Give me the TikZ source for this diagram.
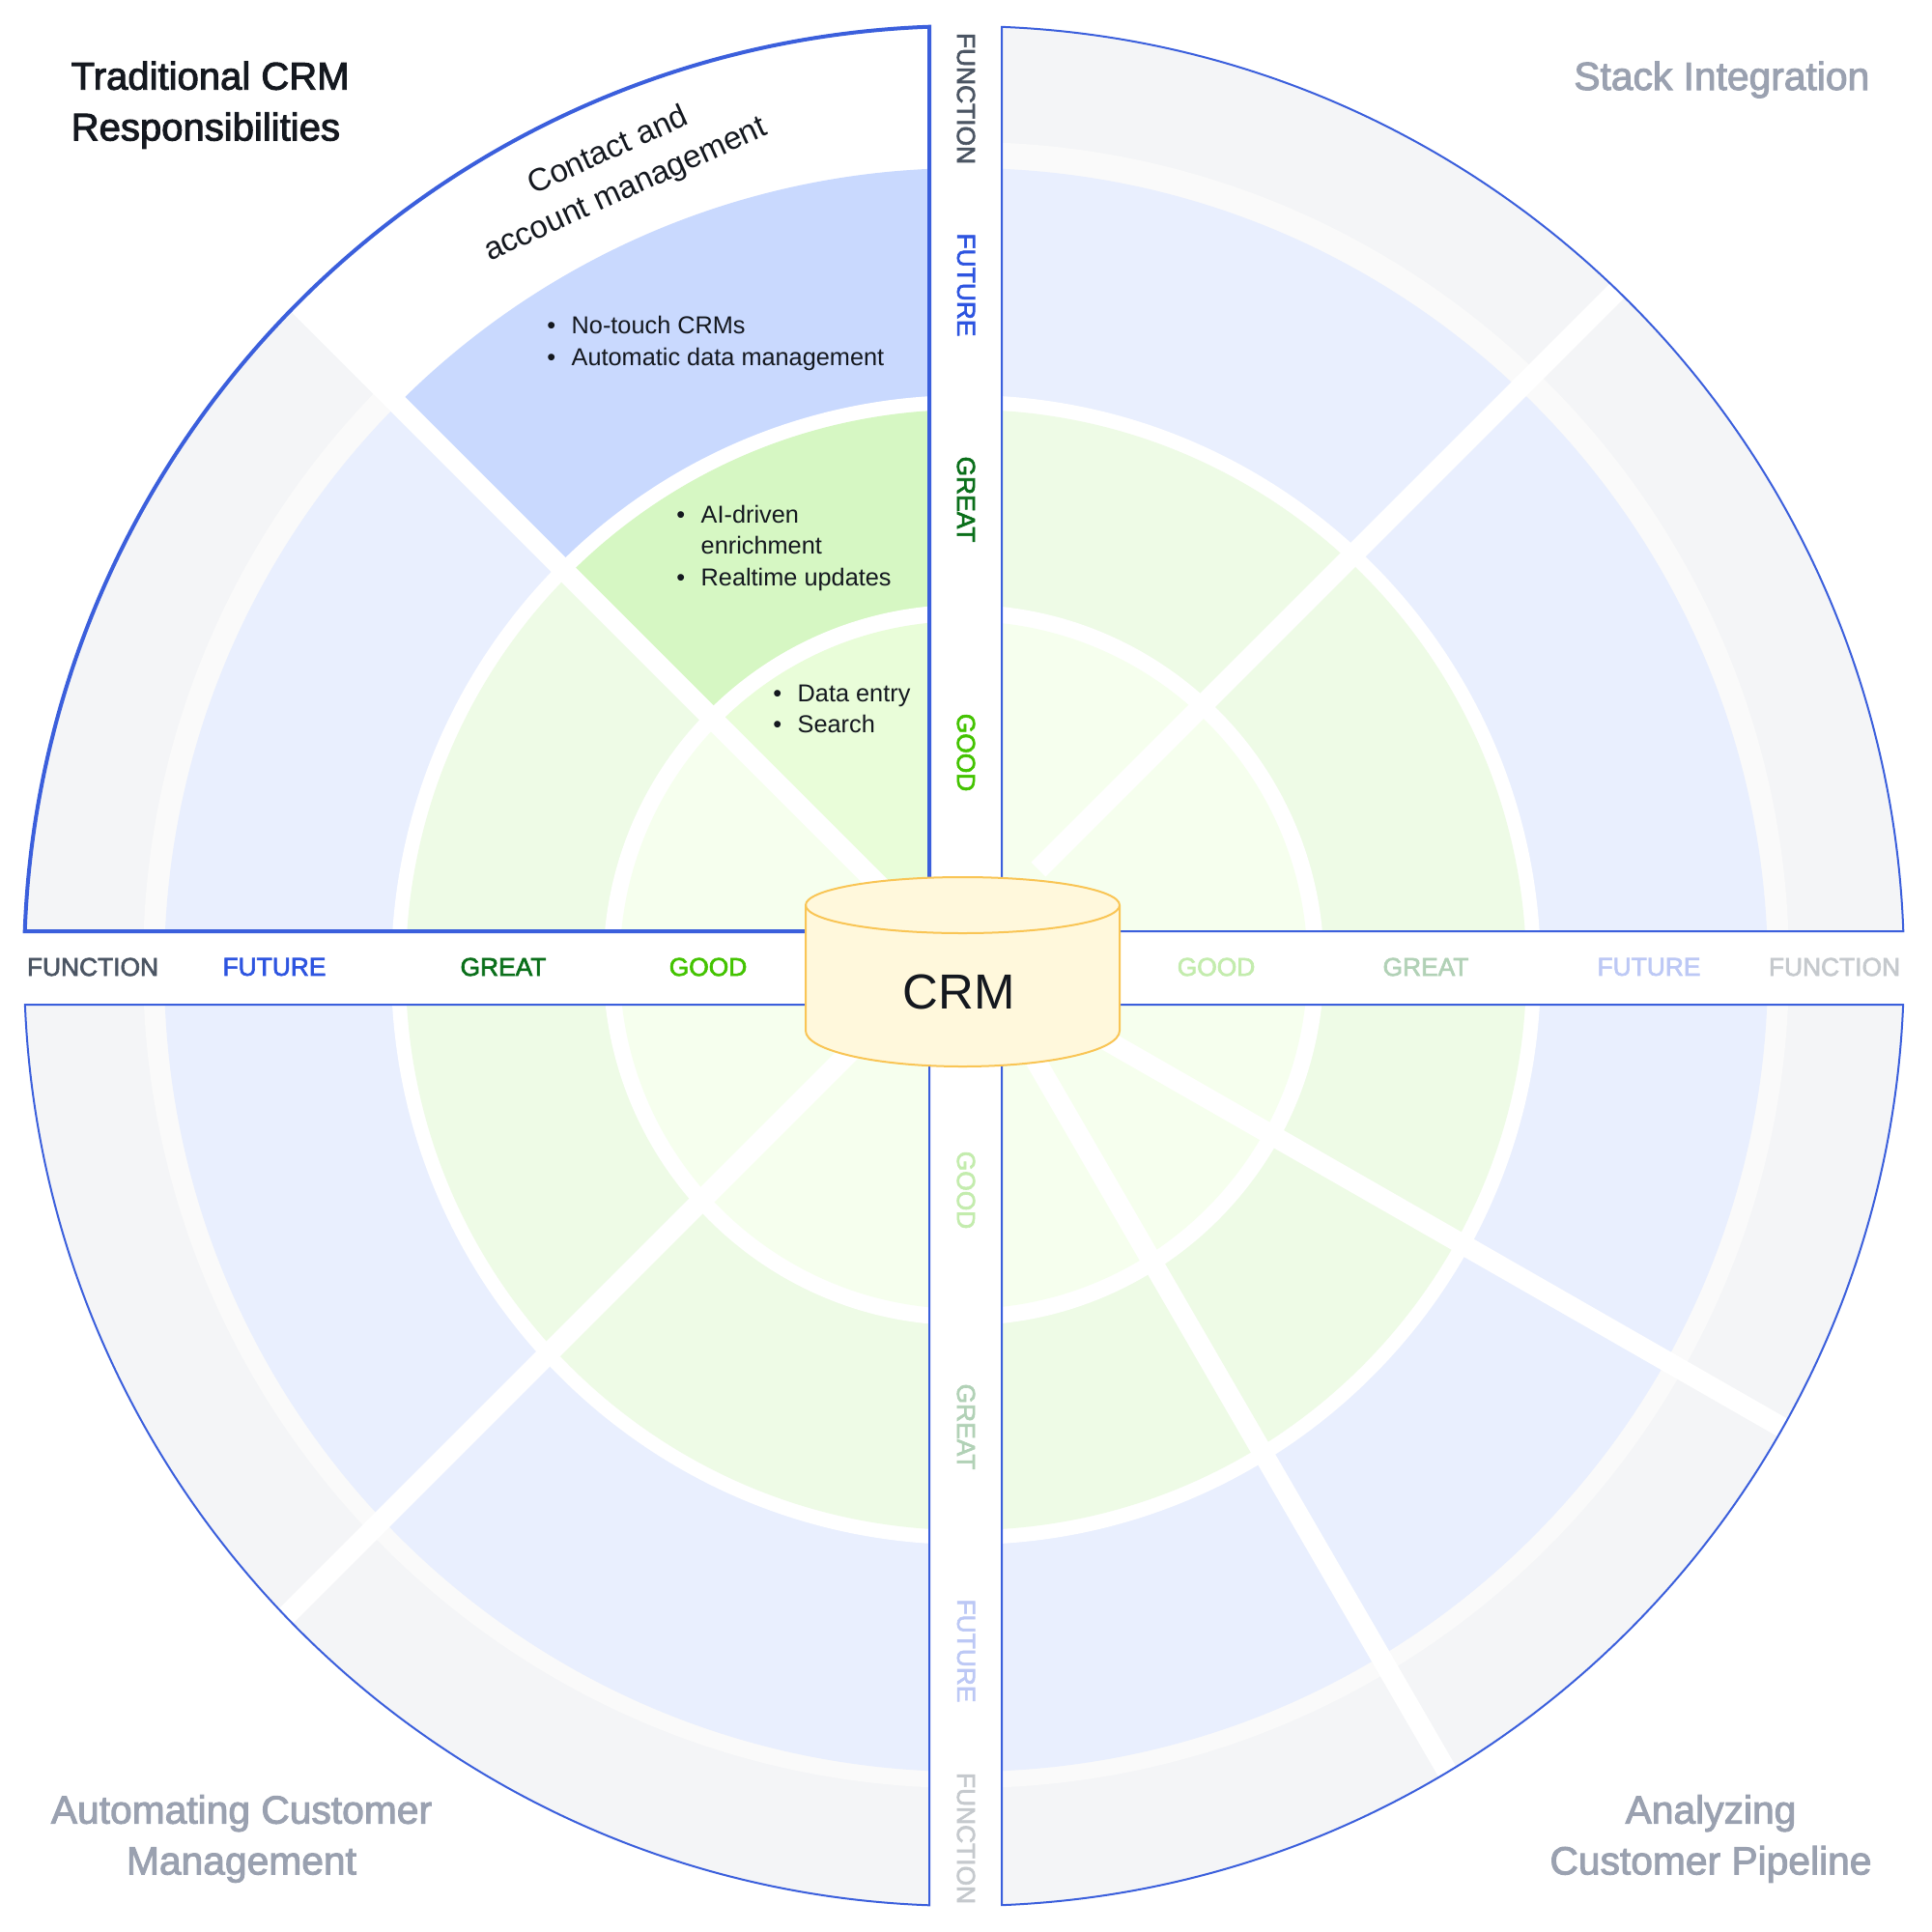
\documentclass[tikz,border=0pt]{standalone}
\usepackage{fontspec}
\setmainfont{Liberation Sans}
\newfontfamily\medfont[FakeBold=2.4]{Liberation Sans}
\usepackage{tikz}
\usetikzlibrary{calc}
\definecolor{quadblue}{HTML}{3B5FDC}
\definecolor{ringgrey}{HTML}{F4F5F7}
\definecolor{ringgap}{HTML}{FAFAFA}
\definecolor{ringblue}{HTML}{E9EFFE}
\definecolor{ringgreen}{HTML}{EEFBE6}
\definecolor{ringlime}{HTML}{F6FFEE}
\definecolor{hiblue}{HTML}{C9D9FE}
\definecolor{higreen}{HTML}{D6F7C3}
\definecolor{hilime}{HTML}{E9FDD9}
\definecolor{inkdark}{HTML}{14181F}
\definecolor{inkgrey}{HTML}{9AA1B0}
\definecolor{tagfunction}{HTML}{4B5563}
\definecolor{tagfuture}{HTML}{2D54E0}
\definecolor{taggreat}{HTML}{0A6F1A}
\definecolor{taggood}{HTML}{43C300}
\definecolor{cylfill}{HTML}{FFF8DC}
\definecolor{cylline}{HTML}{F9C555}
\newcommand{\bulletitem}{\llap{\textbullet\hspace{1.65mm}}}
\tikzset{
    divider/.style={white, line width=2.1mm},
    quadline/.style={draw=quadblue, line width=0.2mm, miter limit=10},
    quadthick/.style={draw=quadblue, line width=0.4mm, miter limit=10},
    title/.style={align=center, text=inkgrey, font=\fontsize{11.6}{15}\selectfont\medfont},
    tag/.style={font=\fontsize{7.5}{9}\selectfont\medfont},
    vtag/.style={tag, rotate=-90},
    itemlist/.style={anchor=west, align=left, inner sep=0pt, text=inkdark, font=\fontsize{7.2}{9.25}\selectfont}
}

\begin{document}
\begin{tikzpicture}
    \useasboundingbox (0,0) rectangle (20,-20);
    \coordinate (hub) at (9.98,-10.00);

    % Rings
    \fill[ringgrey] (hub) circle[radius=9.73];
    \fill[ringgap] (10.00,-9.99) circle[radius=8.52];
    \fill[ringblue] (10.00,-10.04) circle[radius=8.30];
    \fill[white] (10.00,-10.04) circle[radius=5.95];
    \fill[ringgreen] (10.00,-10.04) circle[radius=5.80];
    \fill[white] (9.975,-9.99) circle[radius=3.73];
    \fill[ringlime] (9.975,-9.99) circle[radius=3.56];

    % Channels between quadrants
    \fill[white] (0,-9.64) rectangle (20,-10.40);
    \fill[white] (9.62,0) rectangle (10.37,-20);

    % Highlighted sector
    \begin{scope}
        \clip (9.62,-9.64) -- (9.62,0) -- (0,0) -- (0,-0.065) -- (9.62,-9.685) -- cycle;
        \fill[white] (hub) circle[radius=9.73];
        \fill[hiblue] (10.00,-10.04) circle[radius=8.30];
        \fill[white] (10.00,-10.04) circle[radius=5.95];
        \fill[higreen] (10.00,-10.04) circle[radius=5.80];
        \fill[white] (9.975,-9.99) circle[radius=3.73];
        \fill[hilime] (9.975,-9.99) circle[radius=3.56];
    \end{scope}

    % Dividers
    \draw[divider] (9.20,-9.265) -- (3.05,-3.115);
    \draw[divider] (10.75,-9.00) -- (16.78,-2.97);
    \draw[divider] (8.95,-10.74) -- (2.93,-16.76);
    \draw[divider] (11.00,-10.51) -- (18.50,-14.806);
    \draw[divider] (10.56,-10.70) -- (15.005,-18.38);

    % Quadrant outlines
    \draw[quadline] (10.37,-9.64) -- ($(hub)+(2.12:9.73)$) arc[start angle=2.12, end angle=87.70, radius=9.73] -- cycle;
    \draw[quadline] (9.62,-10.40) -- ($(hub)+(182.36:9.73)$) arc[start angle=182.36, end angle=267.88, radius=9.73] -- cycle;
    \draw[quadline] (10.37,-10.40) -- ($(hub)+(357.64:9.73)$) arc[start angle=357.64, end angle=272.30, radius=9.73] -- cycle;
    \draw[quadthick] (9.62,-9.64) -- ($(hub)+(177.88:9.73)$) arc[start angle=177.88, end angle=92.12, radius=9.73] -- cycle;

    % Quadrant titles
    \node[title, text=inkdark, align=left, anchor=north west, inner sep=0pt, font=\fontsize{11.4}{15}\selectfont\medfont] (crmduties) at (0.73,-0.63) {Traditional CRM\\Responsibilities};
    \node[title, anchor=east, inner sep=0pt] (stack) at (19.36,-0.825) {Stack Integration};
    \node[title] (automating) at (2.50,-19.035) {Automating Customer\\Management};
    \node[title] (analyzing) at (17.71,-19.035) {Analyzing\\Customer Pipeline};

    % Highlighted sector texts
    \node[rotate=24.5, align=center, text=inkdark, font=\fontsize{9.4}{12.4}\selectfont] (contact) at (6.39,-1.77) {Contact and\\account management};
    \node[itemlist] (futurelist) at (5.91,-3.555) {\bulletitem No-touch CRMs\\\bulletitem Automatic data management};
    \node[itemlist] (greatlist) at (7.25,-5.67) {\bulletitem AI-driven\\enrichment\\\bulletitem Realtime updates};
    \node[itemlist] (goodlist) at (8.25,-7.34) {\bulletitem Data entry\\\bulletitem Search};

    % Horizontal scale
    \node[tag, text=tagfunction] (hfunction) at (0.96,-10.01) {FUNCTION};
    \node[tag, text=tagfuture] (hfuture) at (2.84,-10.01) {FUTURE};
    \node[tag, text=taggreat] (hgreat) at (5.21,-10.01) {GREAT};
    \node[tag, text=taggood] (hgood) at (7.33,-10.01) {GOOD};
    \node[tag, text=taggood!32] (egood) at (12.59,-10.01) {GOOD};
    \node[tag, text=taggreat!32] (egreat) at (14.76,-10.01) {GREAT};
    \node[tag, text=tagfuture!32] (efuture) at (17.07,-10.01) {FUTURE};
    \node[tag, text=tagfunction!32] (efunction) at (18.99,-10.01) {FUNCTION};

    % Vertical scale
    \node[vtag, text=tagfunction] (vfunction) at (10.00,-1.02) {FUNCTION};
    \node[vtag, text=tagfuture] (vfuture) at (10.00,-2.95) {FUTURE};
    \node[vtag, text=taggreat] (vgreat) at (10.00,-5.17) {GREAT};
    \node[vtag, text=taggood] (vgood) at (10.00,-7.79) {GOOD};
    \node[vtag, text=taggood!32] (sgood) at (10.00,-12.32) {GOOD};
    \node[vtag, text=taggreat!32] (sgreat) at (10.00,-14.77) {GREAT};
    \node[vtag, text=tagfuture!32] (sfuture) at (10.00,-17.09) {FUTURE};
    \node[vtag, text=tagfunction!32] (sfunction) at (10.00,-19.03) {FUNCTION};

    % CRM cylinder
    \filldraw[fill=cylfill, draw=cylline, line width=0.2mm] (8.34,-9.37) -- (8.34,-10.67)
        arc[x radius=1.625, y radius=0.37, start angle=180, end angle=360] -- (11.59,-9.37)
        arc[x radius=1.625, y radius=0.29, start angle=0, end angle=180] -- cycle;
    \draw[draw=cylline, line width=0.2mm] (8.34,-9.37) arc[x radius=1.625, y radius=0.29, start angle=180, end angle=360];
    \node[text=inkdark, font=\fontsize{14.5}{16}\selectfont] (crm) at (9.93,-10.27) {CRM};
\end{tikzpicture}
\end{document}
